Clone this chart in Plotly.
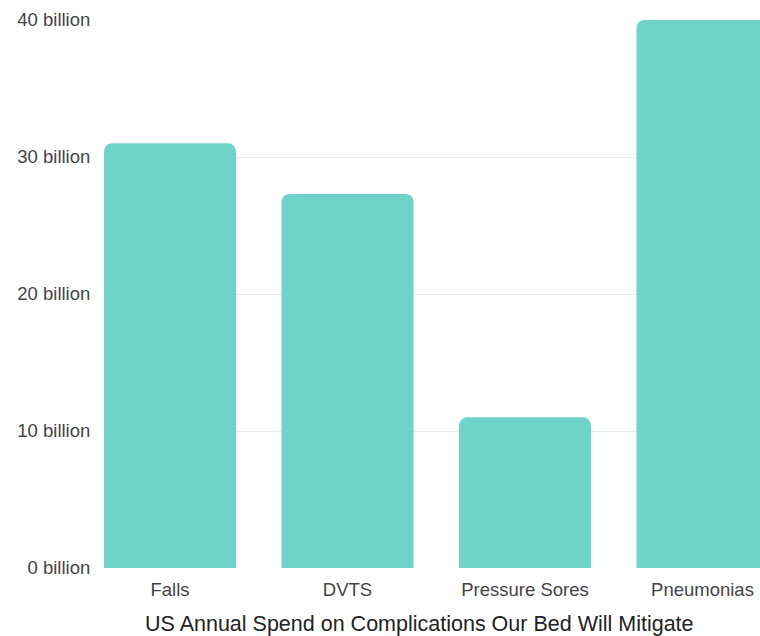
import plotly.graph_objects as go

categories = ["Falls", "DVTS", "Pressure Sores", "Pneumonias"]
values = [31, 27.3, 11, 40]
y_ticks = [0, 10, 20, 30, 40]
y_tick_labels = [f"{v} billion" for v in y_ticks]
x_title = "US Annual Spend on Complications Our Bed Will Mitigate"

fig = go.Figure(go.Bar(
    x=categories, y=values,
    marker=dict(color="#6fd3c9", line=dict(width=0), cornerradius=8),
    hoverinfo="skip",
))

fig.update_layout(
    width=760, height=636,
    margin=dict(l=104, r=0, t=20, b=68),
    paper_bgcolor="white", plot_bgcolor="white",
    bargap=0.256,
    showlegend=False,
    hovermode=False,
    font=dict(family="Liberation Sans, Arial, sans-serif", color="#333333"),
    annotations=[dict(
        text=x_title, xref="paper", yref="paper",
        x=0.4802, y=0, xanchor="center", yanchor="middle", yshift=-56,
        showarrow=False, font=dict(size=21.5, color="#222222"),
    )],
)
fig.update_xaxes(
    range=[-0.372, 3.324],
    showgrid=False, showline=False, zeroline=False,
    tickfont=dict(size=18.5, color="#444444"),
    ticks="outside", ticklen=5, tickcolor="rgba(0,0,0,0)",
)
fig.update_yaxes(
    range=[0, 40],
    tickvals=y_ticks, ticktext=y_tick_labels,
    showgrid=True, gridcolor="#ebebeb", gridwidth=1,
    zeroline=False, showline=False,
    tickfont=dict(size=18.5, color="#444444"),
    ticks="outside", ticklen=9, tickcolor="rgba(0,0,0,0)",
)

fig.write_html(
    "out.html",
    config={"displayModeBar": False, "staticPlot": True},
    post_script="document.body.style.margin='0';document.body.style.overflow='hidden';",
)
